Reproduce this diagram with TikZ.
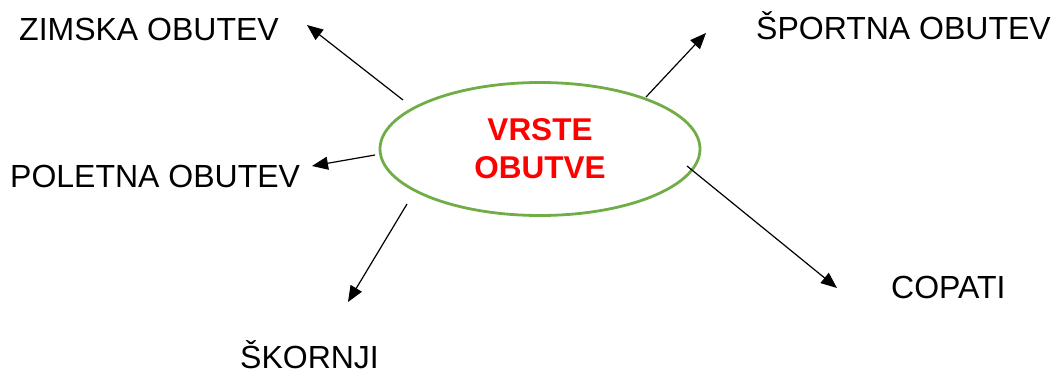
\documentclass[tikz,border=0pt]{standalone}
\usepackage{fontspec}
\setmainfont{Liberation Sans}
\usetikzlibrary{arrows.meta,shapes.geometric}
\definecolor{ellgreen}{RGB}{112,173,71}

\begin{document}
\begin{tikzpicture}[x=1pt,y=-1pt,
		itemtext/.style={anchor=base west, inner sep=0pt, font=\fontsize{32}{38}\selectfont},
		pointer/.style={line width=1.2pt, -{Triangle[length=16pt,width=13pt]}}]
			%%%%% START %%%%%
			
			\useasboundingbox (0,0) rectangle (1055,373);
			
			\node[draw=ellgreen, line width=2.8pt, ellipse, minimum width=320pt, minimum height=133pt, inner sep=0pt, align=center, text=red, font=\bfseries\fontsize{31.5}{38}\selectfont] (vrste) at (540,149) {VRSTE\\OBUTVE};
			
			\node[itemtext] (zimska) at (19,40) {ZIMSKA OBUTEV};
			\node[itemtext] (sportna) at (756,39) {ŠPORTNA OBUTEV};
			\node[itemtext] (poletna) at (10,187) {POLETNA OBUTEV};
			\node[itemtext] (skornji) at (240,368) {ŠKORNJI};
			\node[itemtext] (copati) at (891,298) {COPATI};
			
			\coordinate (zs) at (403,100);
			\coordinate (zt) at (307,25);
			\coordinate (ss) at (646,97);
			\coordinate (st) at (706,33);
			\coordinate (ps) at (375,155);
			\coordinate (pt) at (312,166);
			\coordinate (ks) at (407,204);
			\coordinate (kt) at (348,302);
			\coordinate (cs) at (687,166);
			\coordinate (ct) at (837,288);
			
			\draw[pointer] (zs) -- (zt);
			\draw[pointer] (ss) -- (st);
			\draw[pointer] (ps) -- (pt);
			\draw[pointer] (ks) -- (kt);
			\draw[pointer] (cs) -- (ct);
			
			%%%%% END %%%%%
\end{tikzpicture}
\end{document}
